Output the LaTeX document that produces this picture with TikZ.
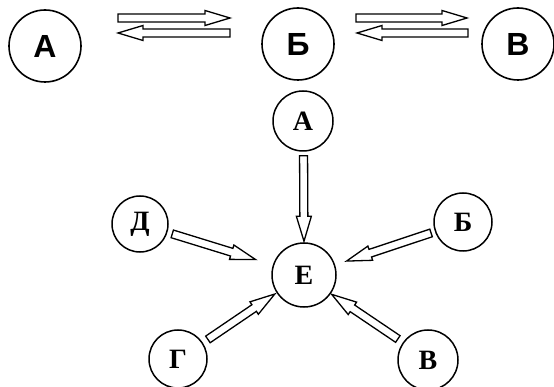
\documentclass[tikz,border=0pt]{standalone}
\usepackage{fontspec}
\setmainfont{Liberation Serif}
\newfontfamily\arialfont{Liberation Sans}
\usetikzlibrary{calc}

\tikzstyle{topstate} = [circle, draw=black, line width=1.6pt, minimum size=72pt, inner sep=0pt, font=\arialfont\bfseries\fontsize{32}{32}\selectfont]
\tikzstyle{state} = [circle, draw=black, line width=1.5pt, minimum size=58pt, inner sep=0pt, font=\bfseries\fontsize{28}{28}\selectfont]
\tikzstyle{hollow} = [draw=black, line width=1.3pt, fill=white, line join=miter]

% hollow arrow between two coordinates
\newcommand{\hollowarrow}[2]{%
  \path let \p1 = ($(#2)-(#1)$) in
    \pgfextra{\pgfmathsetmacro{\arrang}{atan2(\y1,\x1)}\pgfmathsetmacro{\arrlen}{veclen(\x1,\y1)}\xdef\arrang{\arrang}\xdef\arrlen{\arrlen}};
  \draw [hollow, shift={(#1)}, rotate=\arrang]
    (0pt,-4pt) -- ({\arrlen pt-25pt},-4pt) -- ({\arrlen pt-25pt},-7.5pt) -- (\arrlen pt,0pt)
    -- ({\arrlen pt-25pt},7.5pt) -- ({\arrlen pt-25pt},4pt) -- (0pt,4pt) -- cycle;
}
% hollow arrow from node to node, with gaps at both ends
\newcommand{\feed}[4]{%
  \path let \p1 = ($(#2)-(#1)$), \n1 = {atan2(\y1,\x1)}, \n2 = {\n1+180} in
    coordinate (fs) at ($(#1.\n1)!#3!(#2.\n2)$)
    coordinate (fe) at ($(#2.\n2)!#4!(#1.\n1)$);
  \hollowarrow{fs}{fe}%
}

\begin{document}
\begin{tikzpicture}[x=1pt, y=-1pt]

\useasboundingbox (0,0) rectangle (554,387);

% top row
\node (a1) [topstate] at (45,46) {А};
\node (b1) [topstate] at (298,44) {Б};
\node (v1) [topstate] at (518,44) {В};

\coordinate (ab1) at (118,18);
\coordinate (ab2) at (230,18);
\coordinate (ba1) at (230,33);
\coordinate (ba2) at (118,33);
\coordinate (bv1) at (356,18);
\coordinate (bv2) at (467,18);
\coordinate (vb1) at (468,33);
\coordinate (vb2) at (357,33);

\hollowarrow{ab1}{ab2}
\hollowarrow{ba1}{ba2}
\hollowarrow{bv1}{bv2}
\hollowarrow{vb1}{vb2}

% star
\node (e) [state, minimum size=64pt] at (304,275) {Е};
\node (a2) [state, minimum size=60pt] at (303,121) {А};
\node (d) [state, minimum size=56pt] at (140,224) {Д};
\node (b2) [state] at (463,222) {Б};
\node (g) [state] at (178,359) {Г};
\node (v2) [state, minimum size=60pt] at (428,360) {В};

\feed{a2}{e}{4pt}{1pt}
\feed{d}{e}{5pt}{18pt}
\feed{b2}{e}{4pt}{12pt}
\feed{g}{e}{6pt}{2pt}
\feed{v2}{e}{6pt}{1pt}

\end{tikzpicture}
\end{document}
